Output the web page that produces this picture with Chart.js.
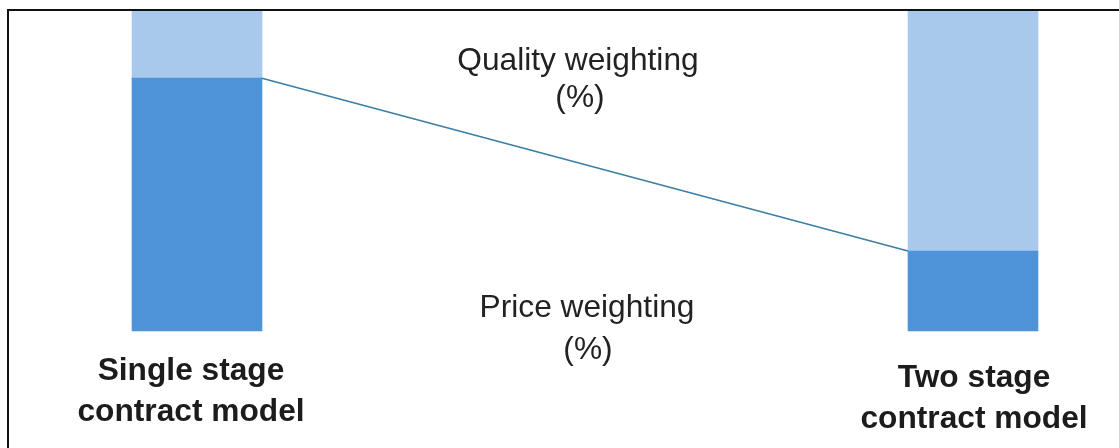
<!DOCTYPE html>
<html>
<head>
<meta charset="utf-8">
<script src="https://cdn.jsdelivr.net/npm/chart.js@4"></script>
<style>
html,body{margin:0;padding:0;background:#fff;}
#wrap{position:relative;width:1119px;height:448px;overflow:hidden;}
#frame{position:absolute;left:7px;top:9px;width:1200px;height:600px;border-left:2px solid #111;border-top:2px solid #111;pointer-events:none;}
</style>
</head>
<body>
<div id="wrap">
<canvas id="c" width="1119" height="448"></canvas>
<div id="frame"></div>
</div>
<script>
// data (percent of each contract model)
const categories = [['Single stage','contract model'], ['Two stage','contract model']];
const priceWeighting = [79, 25];
const qualityWeighting = [21, 75];
const seriesNames = ['Price weighting', 'Quality weighting'];
const midLabels = [['Quality weighting','(%)'], ['Price weighting','(%)']];

const FONT = '"Liberation Sans", Arial, Helvetica, sans-serif';

// line from the right edge of bar 1 to the left edge of bar 2, at the price/quality split
const linkPlugin = {
  id:'link',
  afterDatasetsDraw(chart){
    const bars = chart.getDatasetMeta(0).data; if (bars.length<2) return;
    const ctx = chart.ctx; const a = bars[0], b = bars[1];
    ctx.save(); ctx.strokeStyle='#3a7ea4'; ctx.lineWidth=1.5;
    ctx.beginPath(); ctx.moveTo(a.x + a.width/2, a.y); ctx.lineTo(b.x - b.width/2, b.y); ctx.stroke();
    ctx.restore();
  }
};

// category labels under the bars + the two centre captions
const textPlugin = {
  id:'texts',
  afterDraw(chart){
    const ctx = chart.ctx; const xs = chart.scales.x; const area = chart.chartArea;
    ctx.save(); ctx.textAlign='center'; ctx.textBaseline='alphabetic';
    ctx.fillStyle='#1c1c1c'; ctx.font='bold 31.7px '+FONT;
    const dx=[-6, 1], dy=[49, 56];
    categories.forEach((lines,i)=>{
      const x = xs.getPixelForValue(i)+dx[i];
      lines.forEach((t,j)=>ctx.fillText(t, x, area.bottom+dy[i]+j*41));
    });
    ctx.font='31.7px '+FONT; ctx.fillStyle='#222';
    const cx = (area.left+area.right)/2;
    const capY=[[70,107],[317,359]], capDx=[[-7,-5],[2,3]];
    midLabels.forEach((lines,i)=>lines.forEach((t,j)=>ctx.fillText(t, cx+capDx[i][j], capY[i][j])));
    ctx.restore();
  }
};

new Chart(document.getElementById('c'), {
  type:'bar',
  data:{
    labels: categories,
    datasets:[
      { label:seriesNames[0], data:priceWeighting, backgroundColor:'#4f94d8', barThickness:130, clip:false },
      { label:seriesNames[1], data:qualityWeighting, backgroundColor:'#a8c9eb', barThickness:130, clip:false }
    ]
  },
  options:{
    responsive:false, animation:false,
    layout:{ padding:{ left:197, right:146, top:11, bottom:117 } },
    plugins:{ legend:{display:false}, tooltip:{enabled:false} },
    scales:{
      x:{ stacked:true, offset:false, display:false },
      y:{ stacked:true, min:0, max:100, display:false }
    }
  },
  plugins:[linkPlugin, textPlugin]
});
</script>
</body>
</html>
